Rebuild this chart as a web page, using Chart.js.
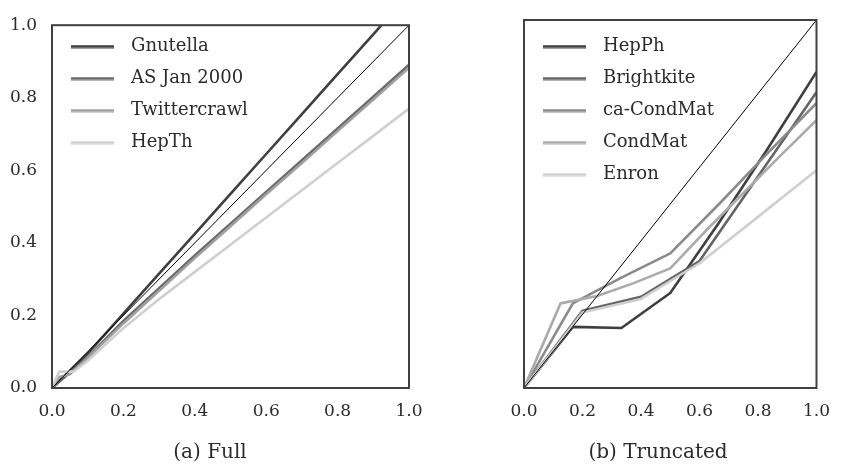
<!DOCTYPE html>
<html>
<head>
<meta charset="utf-8">
<script src="https://cdn.jsdelivr.net/npm/chart.js@4/dist/chart.umd.min.js"></script>
<style>
  html, body { margin: 0; padding: 0; background: #ffffff; }
  #wrap { position: relative; width: 843px; height: 472px; overflow: hidden; }
  canvas { position: absolute; left: 0; top: 0; }
  .cap { position: absolute; top: 439px; width: 240px; text-align: center;
         font-family: "DejaVu Serif", serif; font-size: 20px; line-height: 24px; color: #2b2b2b; }
</style>
</head>
<body>
<div id="wrap">
  <canvas id="full" width="843" height="472"></canvas>
  <canvas id="trunc" width="843" height="472"></canvas>
  <div class="cap" style="left:90px;">(a) Full</div>
  <div class="cap" style="left:538px;">(b) Truncated</div>
</div>
<script>
// ---------- data: (a) Full ----------
const fullLabels = ["Gnutella", "AS Jan 2000", "Twittercrawl", "HepTh"];
const gnutellaX = [0, 0.1, 0.2, 0.3, 0.4, 0.5, 0.6, 0.7, 0.8, 0.9, 1.0];
const gnutellaY = [0, 0.095, 0.205, 0.315, 0.425, 0.535, 0.645, 0.755, 0.865, 0.975, 1.085];
const asJan2000X = [0, 0.1, 0.2, 0.3, 0.4, 0.5, 0.6, 0.7, 0.8, 0.9, 1.0];
const asJan2000Y = [0, 0.085, 0.185, 0.275, 0.365, 0.453, 0.54, 0.628, 0.715, 0.803, 0.891];
const twittercrawlX = [0, 0.02, 0.05, 0.1, 0.2, 0.3, 0.4, 0.5, 0.6, 0.7, 0.8, 0.9, 1.0];
const twittercrawlY = [0, 0.03, 0.038, 0.083, 0.178, 0.268, 0.358, 0.446, 0.534, 0.62, 0.708, 0.795, 0.883];
const hepThX = [0, 0.02, 0.06, 0.1, 0.2, 0.3, 0.4, 0.5, 0.6, 0.7, 0.8, 0.9, 1.0];
const hepThY = [0, 0.045, 0.045, 0.075, 0.165, 0.245, 0.32, 0.395, 0.47, 0.545, 0.62, 0.695, 0.77];

// ---------- data: (b) Truncated ----------
const truncLabels = ["HepPh", "Brightkite", "ca-CondMat", "CondMat", "Enron"];
const hepPhX = [0, 0.167, 0.333, 0.5, 0.667, 0.833, 1.0];
const hepPhY = [0, 0.166, 0.163, 0.258, 0.45, 0.65, 0.859];
const brightkiteX = [0, 0.2, 0.4, 0.6, 0.8, 1.0];
const brightkiteY = [0, 0.21, 0.248, 0.345, 0.575, 0.804];
const caCondMatX = [0, 0.167, 0.333, 0.5, 0.667, 0.833, 1.0];
const caCondMatY = [0, 0.23, 0.3, 0.366, 0.5, 0.638, 0.774];
const condMatX = [0, 0.125, 0.25, 0.375, 0.5, 0.625, 0.75, 0.875, 1.0];
const condMatY = [0, 0.23, 0.25, 0.285, 0.325, 0.43, 0.53, 0.63, 0.728];
const enronX = [0, 0.2, 0.4, 0.6, 0.8, 1.0];
const enronY = [0, 0.205, 0.242, 0.339, 0.465, 0.592];

// reference diagonal
const diagX = [0, 1];
const diagY = [0, 1];

// axis ticks
const tickValues = [0, 0.2, 0.4, 0.6, 0.8, 1.0];

// ---------- styling ----------
const fullColors = ["#3f3f3f", "#6a6a6a", "#a0a0a0", "#cfcfcf"];
const truncColors = ["#3f3f3f", "#656565", "#8a8a8a", "#ababab", "#cfcfcf"];
const FONT = "DejaVu Serif";
const TEXT = "#2b2b2b";

function pts(xs, ys) { return xs.map((x, i) => ({ x: x, y: ys[i] })); }

function legendSwatch(color) {
  const c = document.createElement("canvas");
  c.width = 56; c.height = 4;
  const g = c.getContext("2d");
  g.fillStyle = color;
  g.fillRect(5, 0.5, 43, 3);
  return c;
}

function makeDatasets(labels, xs, ys, colors) {
  const ds = labels.map((lab, i) => ({
    label: lab,
    data: pts(xs[i], ys[i]),
    borderColor: colors[i],
    backgroundColor: colors[i],
    borderWidth: 2.6,
    pointRadius: 0,
    tension: 0,
    borderJoinStyle: "round",
    fill: false,
    order: 100 - i,
    swatch: legendSwatch(colors[i])
  }));
  ds.push({
    label: "__diag",
    data: pts(diagX, diagY),
    borderColor: "#000000",
    borderWidth: 1,
    pointRadius: 0,
    tension: 0,
    fill: false,
    order: 0
  });
  return ds;
}

const framePlugin = {
  id: "frame",
  afterDatasetsDraw(chart) {
    const a = chart.chartArea, ctx = chart.ctx;
    ctx.save();
    ctx.strokeStyle = "#404040";
    ctx.lineWidth = 2;
    ctx.strokeRect(a.left, a.top, a.right - a.left, a.bottom - a.top);
    ctx.restore();
  }
};

function makeOptions(showY, padLeft, padRight) {
  return {
    responsive: false,
    animation: false,
    devicePixelRatio: 1,
    layout: { padding: { left: padLeft, right: padRight, top: 20, bottom: 0 } },
    plugins: {
      tooltip: { enabled: false },
      title: { display: false },
      legend: {
        display: true,
        position: "chartArea",
        align: "start",
        title: { display: true, text: "", padding: { top: 22.5, bottom: 0 }, font: { size: 1, lineHeight: 1 } },
        labels: {
          usePointStyle: true,
          pointStyleWidth: 56,
          padding: 14,
          color: TEXT,
          font: { family: FONT, size: 18 },
          filter: (item) => item.text !== "__diag",
          sort: (a, b) => a.datasetIndex - b.datasetIndex,
          generateLabels: (chart) => {
            const items = Chart.defaults.plugins.legend.labels.generateLabels(chart);
            items.forEach(it => {
              const d = chart.data.datasets[it.datasetIndex];
              if (d.swatch) it.pointStyle = d.swatch;
            });
            return items;
          }
        }
      }
    },
    scales: {
      x: {
        type: "linear", min: 0, max: 1,
        grid: { display: false, drawTicks: false },
        border: { display: false },
        afterBuildTicks: (s) => { s.ticks = tickValues.map(v => ({ value: v })); },
        afterFit: (s) => { s.height = 84; },
        ticks: {
          padding: 13, color: TEXT, maxRotation: 0, autoSkip: false,
          font: { family: FONT, size: 17 },
          callback: (v) => Number(v).toFixed(1)
        }
      },
      y: {
        type: "linear", min: 0, max: 1,
        display: showY,
        grid: { display: false, drawTicks: false },
        border: { display: false },
        afterBuildTicks: (s) => { s.ticks = tickValues.map(v => ({ value: v })); },
        afterFit: (s) => { s.width = 52; },
        ticks: {
          padding: 15, color: TEXT, autoSkip: false,
          font: { family: FONT, size: 17 },
          callback: (v) => Number(v).toFixed(1)
        }
      }
    }
  };
}

new Chart(document.getElementById("full"), {
  type: "line",
  data: {
    datasets: makeDatasets(fullLabels,
      [gnutellaX, asJan2000X, twittercrawlX, hepThX],
      [gnutellaY, asJan2000Y, twittercrawlY, hepThY],
      fullColors)
  },
  options: makeOptions(true, 0, 434),
  plugins: [framePlugin]
});

new Chart(document.getElementById("trunc"), {
  type: "line",
  data: {
    datasets: makeDatasets(truncLabels,
      [hepPhX, brightkiteX, caCondMatX, condMatX, enronX],
      [hepPhY, brightkiteY, caCondMatY, condMatY, enronY],
      truncColors)
  },
  options: makeOptions(false, 472, 14),
  plugins: [framePlugin]
});
</script>
</body>
</html>
